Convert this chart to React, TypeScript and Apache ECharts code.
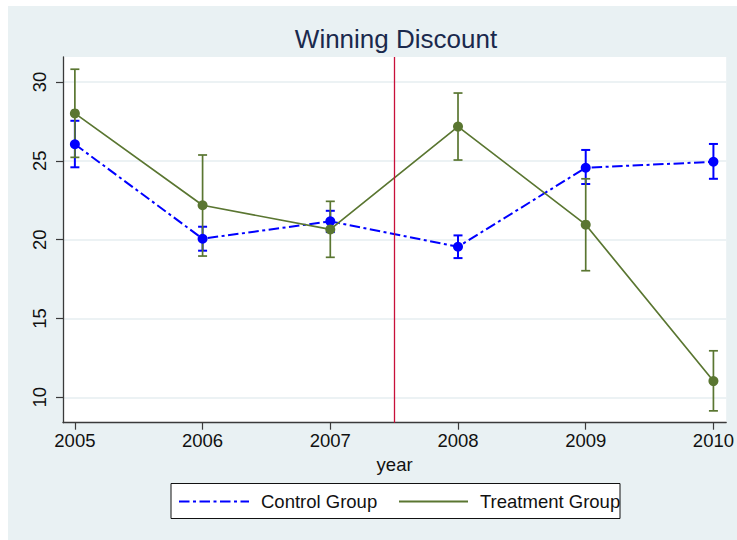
import React, { useEffect, useRef } from "react";
import * as echarts from "echarts";

// Survey years and group means with their confidence bounds
const years = [2005, 2006, 2007, 2008, 2009, 2010];
const controlMean = [26.05, 20.06, 21.16, 19.55, 24.56, 24.94];
const controlLow = [24.59, 19.3, 20.48, 18.83, 23.53, 23.86];
const controlHigh = [27.54, 20.82, 21.83, 20.27, 25.69, 26.07];
const treatmentMean = [28.01, 22.18, 20.65, 27.17, 20.95, 11.03];
const treatmentLow = [25.22, 18.96, 18.88, 25.05, 18.03, 9.14];
const treatmentHigh = [30.81, 25.37, 22.43, 29.3, 23.86, 12.95];

// Axis ticks and the policy break between 2007 and 2008
const xTicks = [2005, 2006, 2007, 2008, 2009, 2010];
const yTicks = [10, 15, 20, 25, 30];
const policyBreak = 2007.5;

const seriesNames = ["Control Group", "Treatment Group"];
const chartTitle = "Winning Discount";
const xAxisTitle = "year";

const BLUE = "#0000ff";
const GREEN = "#5a7631";
const FONT = "Liberation Sans, Arial, Helvetica, sans-serif";

function ciSeries(name: string, lo: number[], hi: number[], color: string, width: number) {
  return {
    type: "custom",
    name,
    silent: true,
    data: years.map((y, i) => [y, lo[i], hi[i]]),
    encode: { x: 0, y: [1, 2] },
    renderItem: (_params: any, api: any) => {
      const x = api.value(0);
      const a = api.coord([x, api.value(1)]);
      const b = api.coord([x, api.value(2)]);
      const hw = 4.5;
      const style = { stroke: color, lineWidth: width };
      return {
        type: "group",
        children: [
          { type: "line", shape: { x1: a[0], y1: a[1], x2: b[0], y2: b[1] }, style },
          { type: "line", shape: { x1: a[0] - hw, y1: a[1], x2: a[0] + hw, y2: a[1] }, style },
          { type: "line", shape: { x1: b[0] - hw, y1: b[1], x2: b[0] + hw, y2: b[1] }, style },
        ],
      };
    },
  };
}

export default function App() {
  const ref = useRef<HTMLDivElement>(null);

  useEffect(() => {
    if (!ref.current) return;
    const chart = echarts.init(ref.current, undefined, { renderer: "svg" });

    const legendY = 501.5;
    chart.setOption({
      animation: false,
      backgroundColor: "transparent",
      title: {
        text: chartTitle,
        left: 391,
        top: 21,
        textAlign: "center",
        textStyle: { color: "#1a294d", fontFamily: FONT, fontSize: 26, fontWeight: "normal" },
      },
      grid: {
        left: 63,
        top: 57,
        width: 666.3,
        height: 365.7,
        show: true,
        backgroundColor: "#ffffff",
        borderWidth: 0,
      },
      xAxis: {
        type: "value",
        min: 2004.907,
        max: 2010.1,
        name: xAxisTitle,
        nameLocation: "middle",
        nameGap: 27,
        nameTextStyle: { color: "#111", fontFamily: FONT, fontSize: 18.5 },
        axisLine: { show: true, onZero: false, lineStyle: { color: "#3a3a3a", width: 1.3 } },
        axisTick: { show: true, length: 7, customValues: xTicks, lineStyle: { color: "#3a3a3a", width: 1.2 } },
        axisLabel: {
          customValues: xTicks,
          margin: 8,
          color: "#111",
          fontFamily: FONT,
          fontSize: 18.5,
          formatter: (v: number) => String(v),
        },
        splitLine: { show: false },
      },
      yAxis: {
        type: "value",
        min: 8.389,
        max: 31.586,
        axisLine: { show: true, onZero: false, lineStyle: { color: "#3a3a3a", width: 1.3 } },
        axisTick: { show: true, length: 7, customValues: yTicks, lineStyle: { color: "#3a3a3a", width: 1.2 } },
        axisLabel: {
          customValues: yTicks,
          rotate: 90,
          margin: 14,
          color: "#111",
          fontFamily: FONT,
          fontSize: 18.5,
        },
        splitLine: { show: true, lineStyle: { color: "#e6eef1", width: 1.5 } },
      },
      series: [
        ciSeries("Control CI", controlLow, controlHigh, BLUE, 2),
        {
          type: "line",
          name: seriesNames[0],
          data: years.map((y, i) => [y, controlMean[i]]),
          symbol: "circle",
          symbolSize: 10,
          itemStyle: { color: BLUE },
          lineStyle: { color: BLUE, width: 2, type: [10.5, 3.5, 3, 3.5] },
          markLine: {
            silent: true,
            symbol: "none",
            label: { show: false },
            lineStyle: { color: "#c8103a", width: 1.3, type: "solid" },
            data: [{ xAxis: policyBreak }],
          },
        },
        ciSeries("Treatment CI", treatmentLow, treatmentHigh, GREEN, 1.7),
        {
          type: "line",
          name: seriesNames[1],
          data: years.map((y, i) => [y, treatmentMean[i]]),
          symbol: "circle",
          symbolSize: 10,
          itemStyle: { color: GREEN },
          lineStyle: { color: GREEN, width: 1.7 },
        },
      ],
      graphic: [
        {
          type: "rect",
          shape: { x: 171, y: 483.5, width: 449, height: 35 },
          style: { fill: "#ffffff", stroke: "#111", lineWidth: 1 },
        },
        {
          type: "line",
          shape: { x1: 179, y1: legendY, x2: 249, y2: legendY },
          style: { stroke: BLUE, lineWidth: 2, lineDash: [10.5, 3.5, 3, 3.5] },
        },
        {
          type: "text",
          x: 261,
          y: legendY,
          style: {
            text: seriesNames[0],
            fill: "#111",
            font: `18.5px ${FONT}`,
            verticalAlign: "middle",
          },
        },
        {
          type: "line",
          shape: { x1: 399, y1: legendY, x2: 468, y2: legendY },
          style: { stroke: GREEN, lineWidth: 1.8 },
        },
        {
          type: "text",
          x: 480,
          y: legendY,
          style: {
            text: seriesNames[1],
            fill: "#111",
            font: `18.5px ${FONT}`,
            verticalAlign: "middle",
          },
        },
      ],
    });

    return () => chart.dispose();
  }, []);

  return (
    <div style={{ position: "fixed", left: 0, top: 0, width: 737, height: 540, background: "#ffffff" }}>
      <div style={{ position: "absolute", left: 8, top: 6, width: 729, height: 534, background: "#e9f1f3" }} />
      <div ref={ref} style={{ position: "absolute", left: 0, top: 0, width: 737, height: 540 }} />
    </div>
  );
}
